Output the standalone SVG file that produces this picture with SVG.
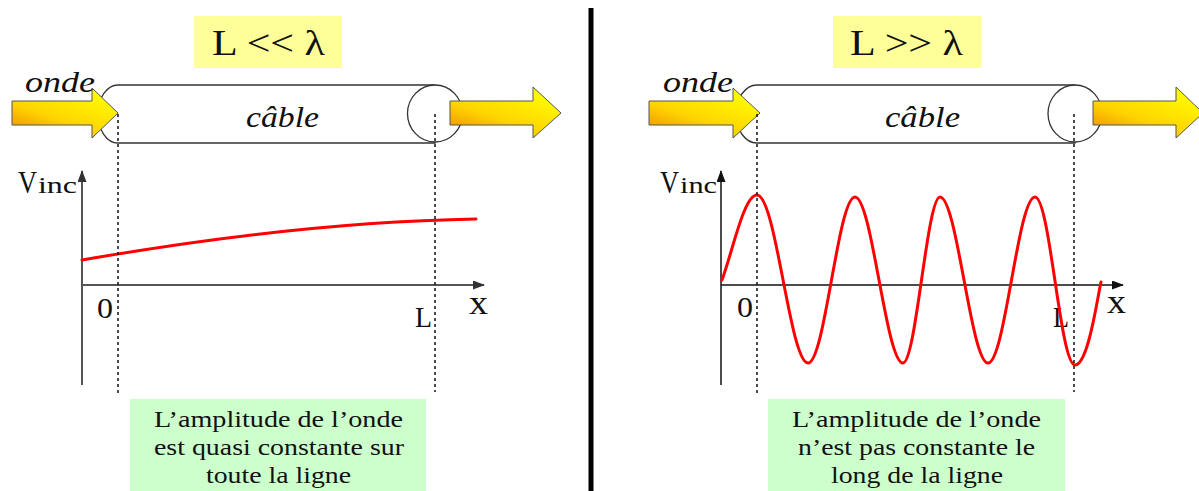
<svg xmlns="http://www.w3.org/2000/svg" width="1199" height="491" viewBox="0 0 1199 491">
<style>
text{font-family:'Liberation Serif','Times New Roman',Times,serif;fill:#111}
.it{font-style:italic}
.title{fill:#ffff99}
.note{fill:#ccffcc}
.cable{fill:#fff;stroke:#333;stroke-width:1.3}
.arrow{fill:url(#ag);stroke:#555;stroke-width:1}
.guide{stroke:#111;stroke-width:1.5;stroke-dasharray:3 3;fill:none}
.axL{stroke:#555;stroke-width:2;fill:none;marker-end:url(#ahL)}
.axR{stroke:#111;stroke-width:1.5;fill:none;marker-end:url(#ahR)}
.curve{stroke:#ff0000;stroke-width:3;fill:none;stroke-linecap:round}
</style>
<defs>
<linearGradient id="ag" x1="0" y1="1" x2="0.75" y2="0">
<stop offset="0" stop-color="#ee8000"/>
<stop offset="0.45" stop-color="#ffd400"/>
<stop offset="1" stop-color="#ffff00"/>
</linearGradient>
<marker id="ahL" markerUnits="userSpaceOnUse" markerWidth="12" markerHeight="10" refX="11" refY="4.5" orient="auto">
<path d="M0,0 L12,4.5 L0,9 z" fill="#333"/>
</marker>
<marker id="ahR" markerUnits="userSpaceOnUse" markerWidth="12" markerHeight="10" refX="11" refY="4.5" orient="auto">
<path d="M0,0 L12,4.5 L0,9 z" fill="#111"/>
</marker>
</defs>
<rect width="1199" height="491" fill="#fff"/>

<line id="separator" x1="591" y1="8" x2="591" y2="491" stroke="#000" stroke-width="5"/>

<g id="title-left">
<rect class="title" x="194" y="16" width="148" height="52"/>
<text x="212" y="55" font-size="35" textLength="113" lengthAdjust="spacingAndGlyphs">L &lt;&lt; λ</text>
</g>
<g id="cable-left">
<path class="cable" d="M118,85 L435,85 L435,143 L118,143 A20,29 0 0 1 118,85 Z"/>
<ellipse class="cable" cx="435" cy="113.5" rx="27.5" ry="28.5"/>
<text class="it" x="246" y="127" font-size="30" textLength="73" lengthAdjust="spacingAndGlyphs">câble</text>
</g>
<g id="arrow-in-left">
<polygon class="arrow" points="12,101 92,101 92,88 118,113 92,138 92,125 12,125"/>
<text class="it" x="25" y="92" font-size="29" textLength="70" lengthAdjust="spacingAndGlyphs">onde</text>
</g>
<g id="arrow-out-left">
<polygon class="arrow" points="450,101 533,101 533,87 561,113 533,138 533,125 450,125"/>
</g>
<g id="graph-left">
<line class="axL" x1="82" y1="385" x2="82" y2="171"/>
<line class="axL" x1="82" y1="285" x2="484" y2="285"/>
<text x="18" y="193" font-size="31" textLength="19" lengthAdjust="spacingAndGlyphs">V</text>
<text x="38" y="193" font-size="24" textLength="39" lengthAdjust="spacingAndGlyphs">inc</text>
<text x="97" y="318" font-size="30" textLength="16" lengthAdjust="spacingAndGlyphs">0</text>
<text x="415" y="327" font-size="30" textLength="17" lengthAdjust="spacingAndGlyphs">L</text>
<text x="469" y="314" font-size="34" textLength="19" lengthAdjust="spacingAndGlyphs">x</text>
<path class="curve" d="M82,260 Q300,222 476,219"/>
</g>
<g id="note-left">
<rect class="note" x="130" y="399" width="296" height="95"/>
<text x="154" y="427" font-size="24" textLength="249" lengthAdjust="spacingAndGlyphs">L’amplitude de l’onde</text>
<text x="154" y="455" font-size="24" textLength="250" lengthAdjust="spacingAndGlyphs">est quasi constante sur</text>
<text x="206" y="483" font-size="24" textLength="145" lengthAdjust="spacingAndGlyphs">toute la ligne</text>
</g>

<g id="title-right">
<rect class="title" x="833" y="16" width="148" height="52"/>
<text x="850" y="55" font-size="35" textLength="113" lengthAdjust="spacingAndGlyphs">L &gt;&gt; λ</text>
</g>
<g id="cable-right">
<path class="cable" d="M757,85 L1075,85 L1075,143 L757,143 A21,29 0 0 1 757,85 Z"/>
<ellipse class="cable" cx="1075" cy="113.5" rx="27" ry="28.5"/>
<text class="it" x="885" y="127" font-size="30" textLength="75" lengthAdjust="spacingAndGlyphs">câble</text>
</g>
<g id="arrow-in-right">
<polygon class="arrow" points="649,101 733,101 733,88 760,113 733,138 733,125 649,125"/>
<text class="it" x="663" y="92" font-size="29" textLength="70" lengthAdjust="spacingAndGlyphs">onde</text>
</g>
<g id="arrow-out-right">
<polygon class="arrow" points="1093,101 1176,101 1176,87 1203,113 1176,138 1176,125 1093,125"/>
</g>
<g id="graph-right">
<line class="axR" x1="721" y1="385" x2="721" y2="171"/>
<line class="axR" x1="721" y1="285" x2="1123" y2="285"/>
<text x="660" y="193" font-size="31" textLength="19" lengthAdjust="spacingAndGlyphs">V</text>
<text x="680" y="193" font-size="24" textLength="37" lengthAdjust="spacingAndGlyphs">inc</text>
<text x="737" y="317" font-size="30" textLength="16" lengthAdjust="spacingAndGlyphs">0</text>
<text x="1053" y="327" font-size="30" textLength="16" lengthAdjust="spacingAndGlyphs">L</text>
<text x="1107" y="313" font-size="34" textLength="19" lengthAdjust="spacingAndGlyphs">x</text>
<path class="curve" d="M722,280 C733,250 744,195 757,195 C776,195 790,363 808,363 C825,363 838,197 855,197 C872,197 886,363 903,363 C916,363 927,197 940,197 C957,197 971,363 988,363 C1005,363 1018,197 1035,197 C1050,197 1060,365 1075,365 C1088,365 1097,300 1101,282"/>
</g>
<g id="note-right">
<rect class="note" x="768" y="399" width="297" height="95"/>
<text x="792" y="427" font-size="24" textLength="249" lengthAdjust="spacingAndGlyphs">L’amplitude de l’onde</text>
<text x="798" y="455" font-size="24" textLength="237" lengthAdjust="spacingAndGlyphs">n’est pas constante le</text>
<text x="831" y="483" font-size="24" textLength="172" lengthAdjust="spacingAndGlyphs">long de la ligne</text>
</g>

<g id="connectors">
<line class="guide" x1="118" y1="114" x2="118" y2="395"/>
<line class="guide" x1="435" y1="114" x2="435" y2="392"/>
<line class="guide" x1="757" y1="114" x2="757" y2="395"/>
<line class="guide" x1="1074" y1="114" x2="1074" y2="392"/>
</g>
</svg>
